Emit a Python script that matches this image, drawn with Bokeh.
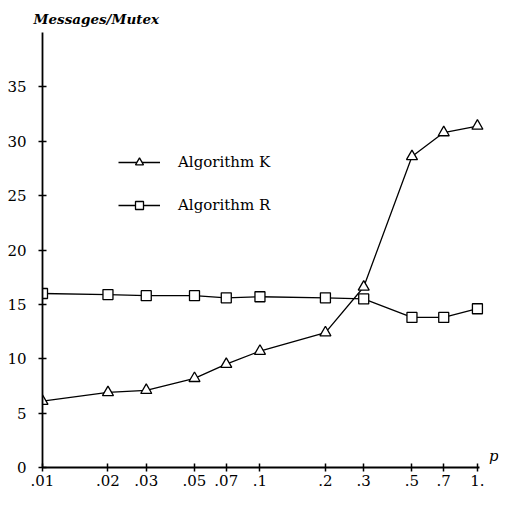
from bokeh.plotting import figure
from bokeh.models import FixedTicker, Range1d, Legend, LegendItem, Label
from bokeh.embed import file_html
from bokeh.resources import INLINE

p_values = [0.01, 0.02, 0.03, 0.05, 0.07, 0.1, 0.2, 0.3, 0.5, 0.7, 1.0]
tick_labels = [".01", ".02", ".03", ".05", ".07", ".1", ".2", ".3", ".5", ".7", "1."]
algo_k = [6.1, 6.9, 7.1, 8.2, 9.5, 10.7, 12.4, 16.6, 28.6, 30.8, 31.4]
algo_r = [16.0, 15.9, 15.8, 15.8, 15.6, 15.7, 15.6, 15.5, 13.8, 13.8, 14.6]
y_ticks = [0, 5, 10, 15, 20, 25, 30, 35]

FONT = "DejaVu Serif"

p = figure(width=500, height=491, x_axis_type="log", output_backend="svg",
           toolbar_location=None, x_range=Range1d(0.01, 1.25), y_range=Range1d(0, 40),
           min_border_left=42, min_border_right=2, min_border_top=32, min_border_bottom=24)
p.outline_line_color = None
p.grid.visible = False
p.background_fill_color = "white"
p.border_fill_color = "white"

p.title.text = "Messages/Mutex"
p.title.text_font = FONT
p.title.text_font_style = "bold italic"
p.title.text_font_size = "13.5px"
p.title.text_color = "black"
p.title.align = "left"
p.title.offset = -9
p.title.standoff = 12

for ax in (p.xaxis[0], p.yaxis[0]):
    ax.axis_line_width = 1.8
    ax.major_tick_line_width = 1.5
    ax.major_tick_in = 4
    ax.major_tick_out = 4
    ax.minor_tick_line_color = None
    ax.major_label_text_font = FONT
    ax.major_label_text_font_size = "15px"
    ax.major_label_text_color = "black"
    ax.axis_line_color = "black"
    ax.major_tick_line_color = "black"

p.xaxis.ticker = FixedTicker(ticks=p_values)
p.xaxis.bounds = (0.01, 1.02)
p.xaxis.major_label_overrides = {v: t for v, t in zip(p_values, tick_labels)}
p.xaxis.major_label_standoff = 3
p.yaxis.ticker = FixedTicker(ticks=y_ticks)
p.yaxis.major_label_standoff = 12

lk = p.line(p_values, algo_k, line_color="black", line_width=1.3)
mk = p.scatter(p_values, algo_k, marker="triangle", size=11, fill_color="white",
               line_color="black", line_width=1.3)
lr = p.line(p_values, algo_r, line_color="black", line_width=1.3)
mr = p.scatter(p_values, algo_r, marker="square", size=10, fill_color="white",
               line_color="black", line_width=1.3)

legend = Legend(items=[LegendItem(label="Algorithm K", renderers=[lk, mk]),
                       LegendItem(label="Algorithm R", renderers=[lr, mr])],
                location=(76, 252), border_line_color=None, background_fill_alpha=0,
                padding=0, margin=0, label_standoff=18, glyph_width=42, glyph_height=20,
                spacing=23, label_text_font=FONT, label_text_font_size="15px",
                label_text_color="black")
p.add_layout(legend)

p.add_layout(Label(x=1.19, y=1.1, text="p", text_font=FONT, text_font_style="italic",
                   text_font_size="15px", text_color="black",
                   text_align="center", text_baseline="middle"))

open("out.html", "w").write(file_html(p, INLINE))
